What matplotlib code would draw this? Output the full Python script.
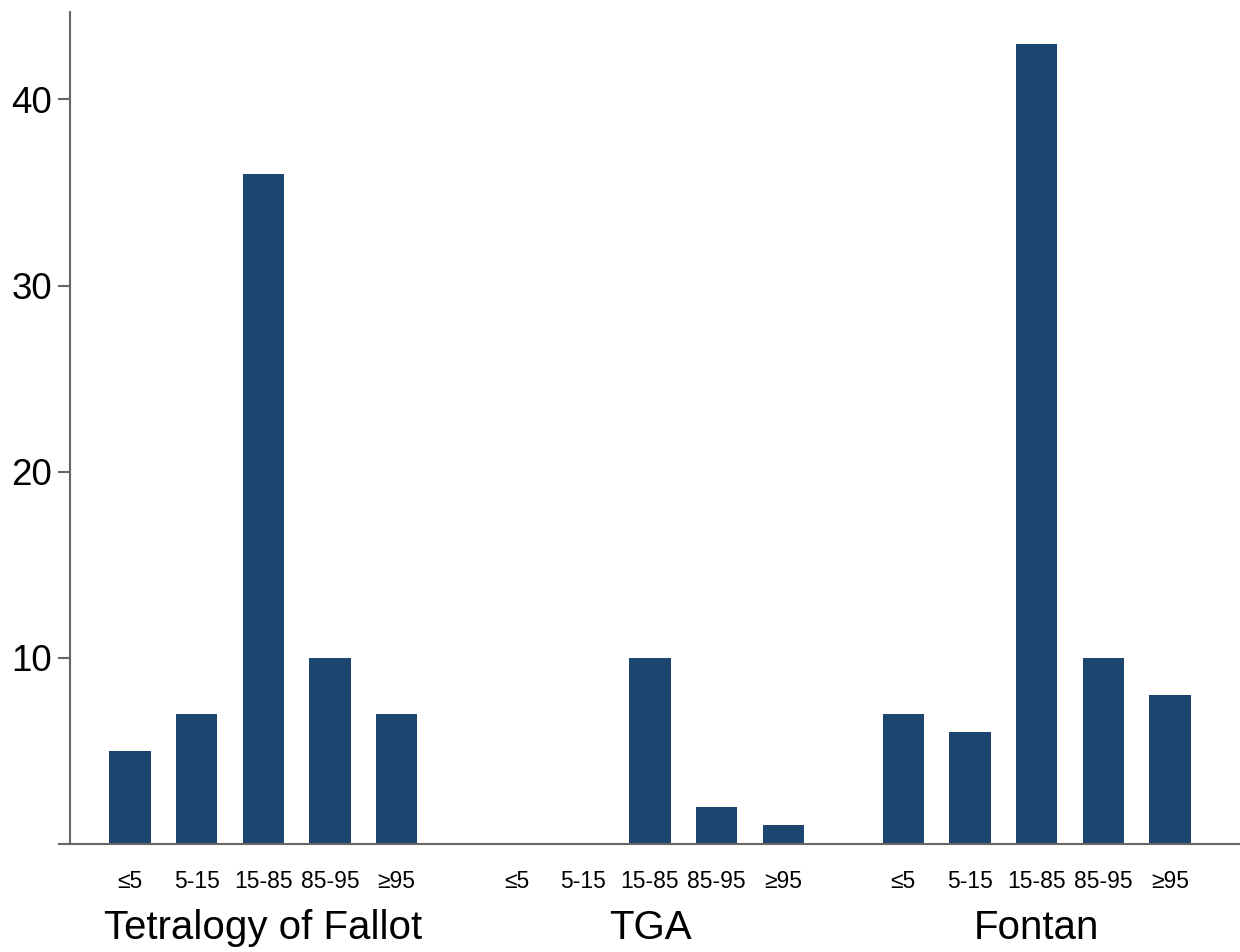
import numpy as np
import matplotlib.pyplot as plt

plt.rcParams['font.family'] = ['Liberation Sans', 'DejaVu Sans']

# data
groups = ["Tetralogy of Fallot", "TGA", "Fontan"]
categories = ["≤5", "5-15", "15-85", "85-95", "≥95"]
tof = [5, 7, 36, 10, 7]
tga = [0, 0, 10, 2, 1]
fontan = [7, 6, 43, 10, 8]

values = [tof, tga, fontan]
bar_color = "#1c4570"
group_step = 5.8

fig = plt.figure(figsize=(12.4, 9.52), dpi=100)
ax = fig.add_axes([70/1240, 1-844/952, 1-70/1240, (844-12)/952])

xticks = []
xlabels = []
for g, vals in enumerate(values):
    x = g*group_step + np.arange(len(categories))
    ax.bar(x, vals, width=0.62, color=bar_color)
    xticks.extend(x)
    xlabels.extend(categories)
    ax.text(g*group_step + 2, -4.5, groups[g], ha="center", va="center",
            fontsize=29, color="black")

ax.set_xticks(xticks)
ax.set_xticklabels(xlabels, fontsize=16.5)
ax.tick_params(axis="x", length=0, pad=19)

ax.set_yticks([0, 10, 20, 30, 40])
ax.set_yticklabels(["", "10", "20", "30", "40"], fontsize=26.5)
ax.tick_params(axis="y", length=9, width=1.5, color="#666666", pad=4)

ax.set_xlim(-0.9, 16.65)
ax.set_ylim(0, 44.7)

for s in ["top", "right"]:
    ax.spines[s].set_visible(False)
for s in ["left", "bottom"]:
    ax.spines[s].set_color("#666666")
    ax.spines[s].set_linewidth(1.5)

fig.savefig("out.png", dpi=100)
